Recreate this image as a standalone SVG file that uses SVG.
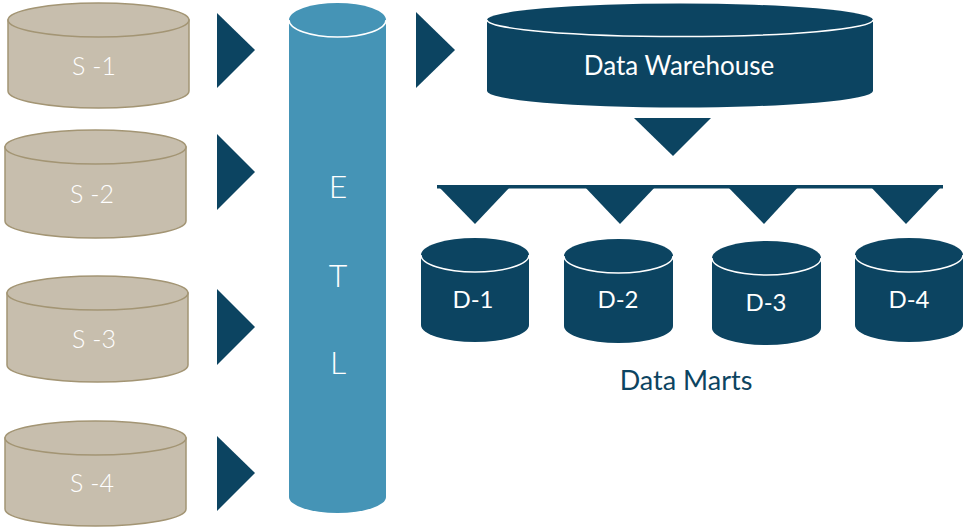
<svg xmlns="http://www.w3.org/2000/svg" width="965" height="527" viewBox="0 0 965 527">
<style>
.src{fill:#c7bead;stroke:#a39574;stroke-width:1.5}
.etl{fill:#4594b6}
.dk{fill:#0c4461}
.hl{fill:none;stroke:#ffffff;stroke-width:1.5}
.arw{fill:#0c4461}
.t{font-family:Lato,"Open Sans","Liberation Sans",sans-serif;fill:#ffffff;text-anchor:middle}
.st{font-size:25px;font-weight:300}
.et{font-size:32px;font-weight:300}
.dt{font-size:24px}
.wt{font-size:26px}
.lab{font-family:Lato,"Open Sans","Liberation Sans",sans-serif;fill:#0c4461;text-anchor:middle;font-size:27px}
</style>
<rect width="965" height="527" fill="#ffffff"/>
<g id="connectors">
<polygon class="arw" points="217,13 255,50 217,88"/>
<polygon class="arw" points="217,134 255,172 217,210"/>
<polygon class="arw" points="217,289 255,327 217,365"/>
<polygon class="arw" points="217,436 255,473 217,511"/>
<polygon class="arw" points="416,12 455,50 416,88"/>
<polygon class="arw" points="634,118 711,118 673,156"/>
<rect class="arw" x="437" y="185" width="506" height="3.5"/>
<polygon class="arw" points="437,185 512,185 475,224"/>
<polygon class="arw" points="583,185 657,185 620,224"/>
<polygon class="arw" points="726,185 800,185 764,224"/>
<polygon class="arw" points="869,185 943,185 906,224"/>
</g>
<g id="s1">
<path class="src" d="M8,20 L8,91 A90.5,17 0 0 0 189,91 L189,20 Z"/>
<ellipse class="src" cx="98.5" cy="20" rx="90.5" ry="17"/>
<text class="t st" x="94" y="75">S -1</text>
</g>
<g id="s2">
<path class="src" d="M5,147 L5,221 A90.5,17 0 0 0 186,221 L186,147 Z"/>
<ellipse class="src" cx="95.5" cy="147" rx="90.5" ry="17"/>
<text class="t st" x="92" y="203">S -2</text>
</g>
<g id="s3">
<path class="src" d="M7,293 L7,365 A90.5,17 0 0 0 188,365 L188,293 Z"/>
<ellipse class="src" cx="97.5" cy="293" rx="90.5" ry="17"/>
<text class="t st" x="94" y="348">S -3</text>
</g>
<g id="s4">
<path class="src" d="M5,438 L5,509 A90.5,17 0 0 0 186,509 L186,438 Z"/>
<ellipse class="src" cx="95.5" cy="438" rx="90.5" ry="17"/>
<text class="t st" x="92" y="492">S -4</text>
</g>
<g id="etl">
<path class="etl" d="M289,20 L289,497 A48.5,16 0 0 0 386,497 L386,20 Z"/>
<ellipse class="etl" cx="337.5" cy="20" rx="48.5" ry="17"/>
<path class="hl" d="M289,20 A48.5,17 0 0 0 386,20"/>
<text class="t et" x="338" y="198">E</text>
<text class="t et" x="338" y="287">T</text>
<text class="t et" x="338" y="374">L</text>
</g>
<g id="dw">
<path class="dk" d="M487,20 L487,91 A193,16.5 0 0 0 873,91 L873,20 Z"/>
<ellipse class="dk" cx="680" cy="20" rx="193" ry="16.5"/>
<path class="hl" d="M487,20 A193,16.5 0 0 0 873,20"/>
<text class="t wt" x="679" y="75">Data Warehouse</text>
</g>
<g id="d1">
<path class="dk" d="M421,255 L421,325 A54,17 0 0 0 529,325 L529,255 Z"/>
<ellipse class="dk" cx="475" cy="255" rx="54" ry="17"/>
<path class="hl" d="M421,255 A54,17 0 0 0 529,255"/>
<text class="t dt" x="473" y="308">D-1</text>
</g>
<g id="d2">
<path class="dk" d="M564,256 L564,326 A54.5,17 0 0 0 673,326 L673,256 Z"/>
<ellipse class="dk" cx="618.5" cy="256" rx="54.5" ry="17"/>
<path class="hl" d="M564,256 A54.5,17 0 0 0 673,256"/>
<text class="t dt" x="618" y="308">D-2</text>
</g>
<g id="d3">
<path class="dk" d="M712,258 L712,328 A54.5,17 0 0 0 821,328 L821,258 Z"/>
<ellipse class="dk" cx="766.5" cy="258" rx="54.5" ry="17"/>
<path class="hl" d="M712,258 A54.5,17 0 0 0 821,258"/>
<text class="t dt" x="766" y="311">D-3</text>
</g>
<g id="d4">
<path class="dk" d="M855,255 L855,325 A54,17 0 0 0 963,325 L963,255 Z"/>
<ellipse class="dk" cx="909" cy="255" rx="54" ry="17"/>
<path class="hl" d="M855,255 A54,17 0 0 0 963,255"/>
<text class="t dt" x="909" y="308">D-4</text>
</g>
<g id="marts-label">
<text class="lab" x="686" y="390">Data Marts</text>
</g>
</svg>
